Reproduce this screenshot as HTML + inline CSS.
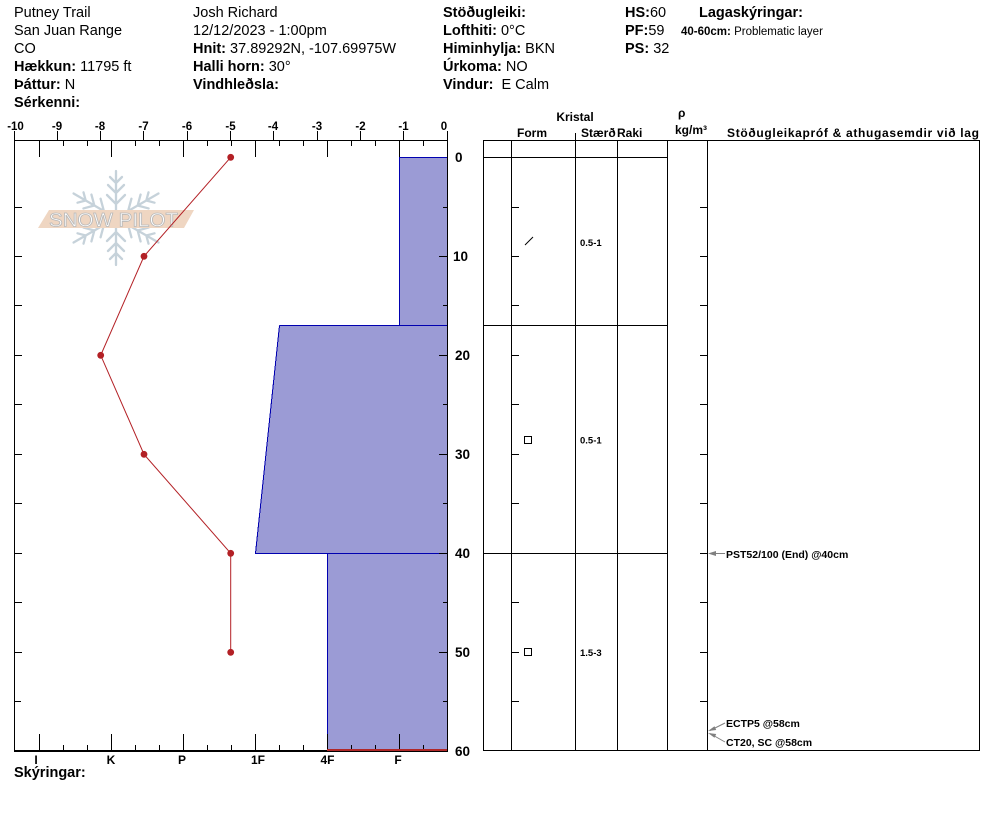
<!DOCTYPE html>
<html><head><meta charset="utf-8"><style>html,body{margin:0;padding:0;background:#fff}svg{display:block}</style></head>
<body>
<svg width="994" height="840" viewBox="0 0 994 840" xmlns="http://www.w3.org/2000/svg" font-family="'Liberation Sans', Arial, sans-serif">
<rect width="994" height="840" fill="#fff"/>

<!-- Header -->
<g font-size="14.5" fill="#000">
<text x="14" y="17">Putney Trail</text>
<text x="14" y="35">San Juan Range</text>
<text x="14" y="53">CO</text>
<text x="14" y="71"><tspan font-weight="bold">Hækkun:</tspan> 11795 ft</text>
<text x="14" y="89"><tspan font-weight="bold">Þáttur:</tspan> N</text>
<text x="14" y="107" font-weight="bold">Sérkenni:</text>

<text x="193" y="17">Josh Richard</text>
<text x="193" y="35">12/12/2023 - 1:00pm</text>
<text x="193" y="53"><tspan font-weight="bold">Hnit:</tspan> 37.89292N, -107.69975W</text>
<text x="193" y="71"><tspan font-weight="bold">Halli horn:</tspan> 30°</text>
<text x="193" y="89" font-weight="bold">Vindhleðsla:</text>

<text x="443" y="17" font-weight="bold">Stöðugleiki:</text>
<text x="443" y="35"><tspan font-weight="bold">Lofthiti:</tspan> 0°C</text>
<text x="443" y="53"><tspan font-weight="bold">Himinhylja:</tspan> BKN</text>
<text x="443" y="71"><tspan font-weight="bold">Úrkoma:</tspan> NO</text>
<text x="443" y="89"><tspan font-weight="bold">Vindur:</tspan><tspan dx="8">E Calm</tspan></text>

<text x="625" y="17"><tspan font-weight="bold">HS:</tspan>60</text>
<text x="625" y="35"><tspan font-weight="bold">PF:</tspan>59</text>
<text x="625" y="53"><tspan font-weight="bold">PS:</tspan> 32</text>

<text x="699" y="17" font-weight="bold">Lagaskýringar:</text>
</g>
<text x="681" y="35" font-size="11.5"><tspan font-weight="bold">40-60cm:</tspan> Problematic layer</text>

<!-- Snow pilot logo -->
<g stroke="#c6d2da" stroke-width="2.3" stroke-linecap="round" fill="none">
  <g transform="translate(116,218) rotate(0)"><path d="M0 0V-47M0 -14L-9 -23M0 -14L9 -23M0 -25L-8 -33M0 -25L8 -33M0 -35L-6 -41M0 -35L6 -41"/></g>
  <g transform="translate(116,218) rotate(60)"><path d="M0 0V-49M0 -14L-9 -23M0 -14L9 -23M0 -25L-8 -33M0 -25L8 -33M0 -35L-6 -41M0 -35L6 -41"/></g>
  <g transform="translate(116,218) rotate(120)"><path d="M0 0V-49M0 -14L-9 -23M0 -14L9 -23M0 -25L-8 -33M0 -25L8 -33M0 -35L-6 -41M0 -35L6 -41"/></g>
  <g transform="translate(116,218) rotate(180)"><path d="M0 0V-47M0 -14L-9 -23M0 -14L9 -23M0 -25L-8 -33M0 -25L8 -33M0 -35L-6 -41M0 -35L6 -41"/></g>
  <g transform="translate(116,218) rotate(240)"><path d="M0 0V-49M0 -14L-9 -23M0 -14L9 -23M0 -25L-8 -33M0 -25L8 -33M0 -35L-6 -41M0 -35L6 -41"/></g>
  <g transform="translate(116,218) rotate(300)"><path d="M0 0V-49M0 -14L-9 -23M0 -14L9 -23M0 -25L-8 -33M0 -25L8 -33M0 -35L-6 -41M0 -35L6 -41"/></g>
</g>
<polygon points="49,210 194,210 184,228 38,228" fill="#efd6c2"/>
<text x="49" y="226.5" font-size="19" fill="#fff" stroke="#b9b9b9" stroke-width="0.8" textLength="129" lengthAdjust="spacingAndGlyphs">SNOW PILOT</text>

<!-- Hardness bars -->
<g fill="#9b9bd5">
  <rect x="399" y="157" width="48" height="168"/>
  <polygon points="279,325 447,325 447,553 255,553"/>
  <rect x="327" y="553" width="120" height="197"/>
</g>
<g stroke="#0000b0" stroke-width="1" fill="none" shape-rendering="crispEdges">
  <path d="M399.5 325V157.5H447"/>
  <path d="M279.5 325.5H447"/>
  <path d="M279.5 325.5L255.5 553.5H447"/>
  <path d="M327.5 553.5V750"/>
</g>

<!-- Left chart axes -->
<g stroke="#000" stroke-width="1" fill="none" shape-rendering="crispEdges">
  <path d="M14 140.5H448"/>
  <path d="M14.5 131V751"/>
  <path d="M447.5 131V751"/>
  <path d="M57.5 131V140M100.5 131V140M143.5 131V140M187.5 131V140M230.5 131V140M273.5 131V140M317.5 131V140M360.5 131V140M403.5 131V140"/>
  <path d="M39.5 140V157M111.5 140V157M183.5 140V157M255.5 140V157M327.5 140V157M399.5 140V157"/>
  <path d="M63.5 140V146M87.5 140V146M135.5 140V146M159.5 140V146M207.5 140V146M231.5 140V146M279.5 140V146M303.5 140V146M351.5 140V146M375.5 140V146M423.5 140V146"/>
  <path d="M39.5 734V751M111.5 734V751M183.5 734V751M255.5 734V751M327.5 734V751M399.5 734V751"/>
  <path d="M63.5 745V751M87.5 745V751M135.5 745V751M159.5 745V751M207.5 745V751M231.5 745V751M279.5 745V751M303.5 745V751M351.5 745V751M375.5 745V751M423.5 745V751"/>
  <path d="M14 207.5H22M14 256.5H22M14 305.5H22M14 355.5H22M14 404.5H22M14 454.5H22M14 503.5H22M14 553.5H22M14 602.5H22M14 652.5H22M14 701.5H21"/>
  <path d="M447 207.5H443M447 256.5H439M447 305.5H443M447 355.5H439M447 404.5H443M447 454.5H439M447 503.5H443M447 553.5H439M447 602.5H443M447 652.5H439M447 701.5H443"/>
</g>
<rect x="14" y="750" width="434" height="2" fill="#000"/>
<rect x="327" y="749" width="120" height="2" fill="#b02828"/>

<!-- Temp labels -->
<g font-size="11.5" font-weight="bold" text-anchor="middle" fill="#000">
<text x="15.5" y="130">-10</text><text x="57" y="130">-9</text><text x="100" y="130">-8</text><text x="143.5" y="130">-7</text><text x="187" y="130">-6</text><text x="230.5" y="130">-5</text><text x="273" y="130">-4</text><text x="317" y="130">-3</text><text x="360.5" y="130">-2</text><text x="403.5" y="130">-1</text><text x="444" y="130">0</text>
</g>
<!-- Depth labels -->
<g font-size="13.5" font-weight="bold" fill="#000">
<text x="455" y="162">0</text><text x="453" y="261">10</text><text x="455" y="360">20</text><text x="455" y="459">30</text><text x="455" y="558">40</text><text x="455" y="657">50</text><text x="455" y="756">60</text>
</g>
<!-- Hardness labels -->
<g font-size="12" font-weight="bold" text-anchor="middle" fill="#000">
<text x="36" y="764">I</text><text x="111" y="764">K</text><text x="182" y="764">P</text><text x="258" y="764">1F</text><text x="327.5" y="764">4F</text><text x="398" y="764">F</text>
</g>
<text x="14" y="777" font-size="14.5" font-weight="bold">Skýringar:</text>

<!-- Temperature profile -->
<polyline points="230.7,157.3 144,256.3 100.7,355.3 144,454.3 230.7,553.3 230.7,652.3" fill="none" stroke="#b32025" stroke-width="1"/>
<g fill="#b32025">
<circle cx="230.7" cy="157.3" r="3.4"/><circle cx="144" cy="256.3" r="3.4"/><circle cx="100.7" cy="355.3" r="3.4"/><circle cx="144" cy="454.3" r="3.4"/><circle cx="230.7" cy="553.3" r="3.4"/><circle cx="230.7" cy="652.3" r="3.4"/>
</g>

<!-- Right table -->
<g stroke="#000" stroke-width="1" fill="none" shape-rendering="crispEdges">
  <path d="M483 140.5H980"/>
  <path d="M483 750.5H980"/>
  <path d="M483.5 140V751M511.5 140V751M575.5 133V751M617.5 140V751M667.5 140V751M707.5 140V751M979.5 140V751"/>
  <path d="M483 157.5H668M483 325.5H668M483 553.5H668"/>
  <path d="M511 207.5H519M511 256.5H519M511 305.5H519M511 355.5H519M511 404.5H519M511 454.5H519M511 503.5H519M511 602.5H519M511 652.5H519M511 701.5H519"/>
  <path d="M707 207.5H700M707 256.5H700M707 305.5H700M707 355.5H700M707 404.5H700M707 454.5H700M707 503.5H700M707 553.5H700M707 602.5H700M707 652.5H700M707 701.5H700"/>
</g>
<g font-size="12" font-weight="bold" fill="#000">
<text x="575" y="121" text-anchor="middle">Kristal</text>
<text x="517" y="137">Form</text>
<text x="581" y="137">Stærð</text>
<text x="617" y="137">Raki</text>
<text x="678" y="117">ρ</text>
<text x="675" y="134">kg/m³</text>
<text x="727" y="137" textLength="252" lengthAdjust="spacing">Stöðugleikapróf &amp; athugasemdir við lag</text>
</g>
<!-- grain symbols -->
<path d="M525 245L533 237" stroke="#000" stroke-width="1" fill="none"/>
<rect x="524.5" y="436.5" width="7" height="7" fill="none" stroke="#000" stroke-width="1"/>
<rect x="524.5" y="648.5" width="7" height="7" fill="none" stroke="#000" stroke-width="1"/>
<g font-size="9.5" font-weight="bold" fill="#000">
<text x="580" y="246">0.5-1</text>
<text x="580" y="443.5">0.5-1</text>
<text x="580" y="656">1.5-3</text>
</g>

<!-- annotations -->
<g stroke="#808080" stroke-width="1" fill="none">
  <path d="M725 553.5H710"/>
  <path d="M725 723L710 730.5"/>
  <path d="M725 742L710 733.5"/>
</g>
<g fill="#808080">
  <polygon points="708,553.5 716,551 716,556"/>
  <polygon points="708,731 714.5,726.3 716.2,730"/>
  <polygon points="708,733 716.2,734 714.5,737.7"/>
</g>
<g font-size="10.5" font-weight="bold" fill="#000">
<text x="726" y="558">PST52/100 (End) @40cm</text>
<text x="726" y="727">ECTP5 @58cm</text>
<text x="726" y="746">CT20, SC @58cm</text>
</g>
</svg>
</body></html>
